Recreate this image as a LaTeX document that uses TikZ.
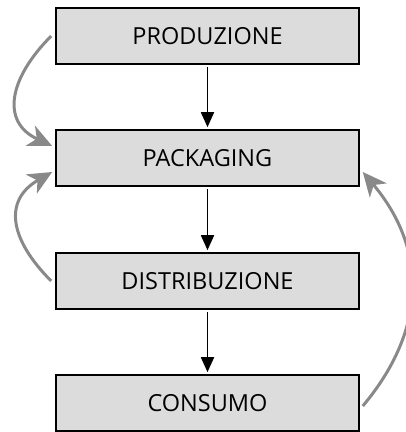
\documentclass[tikz,border=0pt]{standalone}
\usepackage{fontspec}
\setmainfont{Open Sans}
\usetikzlibrary{arrows.meta}

\begin{document}
\begin{tikzpicture}[x=1pt, y=1pt,
    stage/.style={rectangle, draw=black, line width=1.6pt, fill=boxgray, minimum width=303pt, minimum height=56pt, font=\fontsize{23.5}{27}\selectfont},
    flow/.style={-{Triangle[length=15pt, width=13pt]}, line width=1.8pt},
    loop/.style={-{Stealth[length=24pt, width=22pt, inset=7pt]}, line width=3pt, draw=loopgray}]
    \definecolor{boxgray}{HTML}{DCDCDC}
    \definecolor{loopgray}{HTML}{898989}
    \useasboundingbox (0,0) rectangle (406,432);

    \node at (207.5, 396) [stage] (prod) {PRODUZIONE};
    \node at (207.5, 274) [stage] (pack) {PACKAGING};
    \node at (207.5, 151) [stage] (dist) {DISTRIBUZIONE};
    \node at (207.5, 29) [stage] (cons) {CONSUMO};

    %main chain
    \draw [flow] ([yshift=-2pt]prod.south) -- ([yshift=2pt]pack.north);
    \draw [flow] ([yshift=-2pt]pack.south) -- ([yshift=2pt]dist.north);
    \draw [flow] ([yshift=-2pt]dist.south) -- ([yshift=2pt]cons.north);

    %feedback loops to packaging
    \draw [loop] ([xshift=-4pt]prod.west) to[out=225, in=155, looseness=1.35] ([xshift=-3pt, yshift=12pt]pack.west);
    \draw [loop] ([xshift=-4pt]dist.west) to[out=135, in=210, looseness=1.35] ([xshift=-3pt, yshift=-14pt]pack.west);
    \draw [loop] ([xshift=3pt, yshift=-3pt]cons.east) to[out=50, in=-50, looseness=1.1] ([xshift=3pt, yshift=-14pt]pack.east);
\end{tikzpicture}
\end{document}
